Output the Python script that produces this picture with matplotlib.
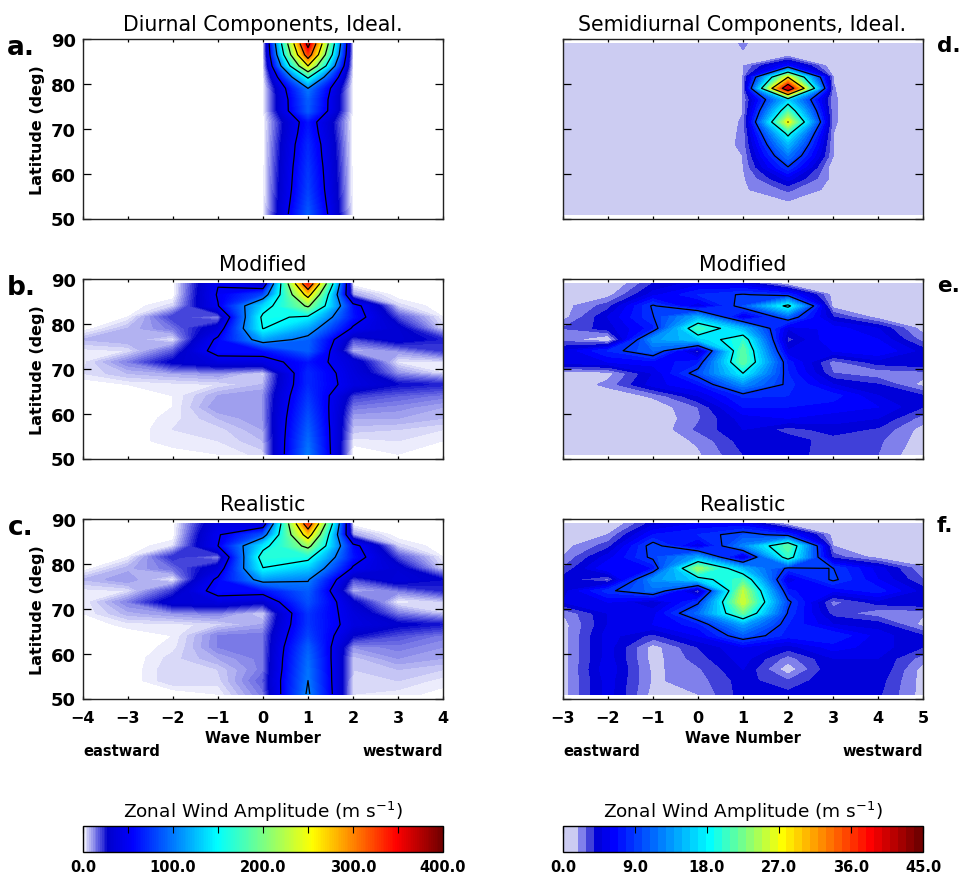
"""
Zonal wind amplitude by wave number and latitude, diurnal and semidiurnal.
"""

import numpy as np
import matplotlib
matplotlib.use("Agg")
import matplotlib.pyplot as plt
from matplotlib.cm import ScalarMappable
from matplotlib.colors import BoundaryNorm, LinearSegmentedColormap

W, H = 961, 878

lat_rows = [89, 86.5, 84, 81.5, 79, 76.5, 74, 71.5, 69, 66.5, 64, 61.5, 59, 56.5, 54, 51]
diurnal_waves = [-4, -3, -2, -1, 0, 1, 2, 3, 4]
semi_waves = [-3, -2, -1, 0, 1, 2, 3, 4, 5]

diurnal_ideal = [
    [0, 0, 0, 0, 0, 365, 0, 0, 0],
    [0, 0, 0, 0, 0, 325, 0, 0, 0],
    [0, 0, 0, 0, 0, 250, 0, 0, 0],
    [0, 0, 0, 0, 0, 155, 0, 0, 0],
    [0, 0, 0, 0, 0, 100, 0, 0, 0],
    [0, 0, 0, 0, 0, 90, 0, 0, 0],
    [0, 0, 0, 0, 0, 89, 0, 0, 0],
    [0, 0, 0, 0, 0, 62, 0, 0, 0],
    [0, 0, 0, 0, 0, 65, 0, 0, 0],
    [0, 0, 0, 0, 0, 70, 0, 0, 0],
    [0, 0, 0, 0, 0, 72, 0, 0, 0],
    [0, 0, 0, 0, 0, 75, 0, 0, 0],
    [0, 0, 0, 0, 0, 77, 0, 0, 0],
    [0, 0, 0, 0, 0, 79, 0, 0, 0],
    [0, 0, 0, 0, 0, 83, 0, 0, 0],
    [0, 0, 0, 0, 0, 89, 0, 0, 0],
]

diurnal_modified = [
    [0, 0, 0, 49, 25, 340, 0, 0, 0],
    [0, 0, 0, 52, 80, 265, 10, 0, 0],
    [0, 0, 5, 49, 135, 205, 60, 5, 0],
    [0, 2, 22, 12, 157, 145, 62, 20, 2],
    [0, 8, 15, 35, 151, 115, 47, 32, 5],
    [8, 10, 3, 55, 115, 92, 20, 33, 25],
    [3, 4, 18, 60, 60, 90, 8, 12, 22],
    [3, 14, 30, 38, 40, 62, 35, 3, 3],
    [4, 8, 10, 12, 5, 70, 38, 12, 4],
    [0, 2, 3, 4, 8, 70, 40, 28, 25],
    [0, 0, 2, 10, 12, 75, 22, 18, 15],
    [0, 0, 2, 12, 12, 80, 15, 13, 10],
    [0, 0, 3, 8, 12, 85, 10, 10, 8],
    [0, 0, 4, 5, 10, 90, 7, 6, 4],
    [0, 0, 4, 4, 8, 95, 3, 4, 2],
    [0, 0, 0, 2, 5, 100, 0, 2, 0],
]

diurnal_realistic = [
    [0, 0, 0, 40, 30, 330, 0, 0, 0],
    [0, 0, 0, 48, 85, 270, 10, 0, 0],
    [0, 0, 4, 50, 140, 210, 58, 5, 0],
    [0, 2, 24, 12, 165, 158, 62, 20, 2],
    [0, 9, 16, 35, 149, 130, 47, 33, 5],
    [8, 12, 2, 55, 112, 102, 20, 36, 28],
    [3, 4, 22, 60, 60, 90, 8, 14, 24],
    [2, 14, 34, 38, 30, 85, 30, 2, 5],
    [2, 9, 12, 14, 5, 75, 38, 14, 6],
    [0, 3, 3, 5, 10, 75, 40, 30, 26],
    [0, 0, 2, 14, 15, 80, 28, 20, 15],
    [0, 0, 3, 14, 15, 90, 12, 15, 12],
    [0, 0, 5, 10, 15, 95, 7, 12, 10],
    [0, 0, 6, 6, 15, 98, 6, 8, 6],
    [0, 0, 6, 5, 18, 100, 5, 6, 3],
    [0, 0, 0, 2, 15, 104, 4, 3, 1],
]

semi_ideal = [
    [1, 1, 1, 1, 2.1, 1, 1, 1, 1],
    [1, 1, 1, 1, 1.9, 1, 1, 1, 1],
    [1, 1, 1, 1, 1.9, 7, 1, 1, 1],
    [1, 1, 1, 1, 1.95, 27, 1.95, 1, 1],
    [1, 1, 1, 1, 1.95, 41, 2.05, 1, 1],
    [1, 1, 1, 1, 1.95, 16, 2.1, 1, 1],
    [1, 1, 1, 1, 1.95, 21, 2.1, 1, 1],
    [1, 1, 1, 1, 2.1, 27.1, 2.1, 1, 1],
    [1, 1, 1, 1, 2.15, 19, 2, 1, 1],
    [1, 1, 1, 1, 2.2, 15, 2, 1, 1],
    [1, 1, 1, 1, 2, 12, 2, 1, 1],
    [1, 1, 1, 1, 1.95, 9, 1.2, 1, 1],
    [1, 1, 1, 1, 1.8, 5.5, 1.6, 1, 1],
    [1, 1, 1, 1, 1.8, 3.2, 1.55, 1, 1],
    [1, 1, 1, 1, 1, 2, 1, 1, 1],
    [1, 1, 1, 1, 1, 1, 1, 1, 1],
]

semi_modified = [
    [0.8, 0.5, 4, 5.5, 5, 1, 0.8, 0.8, 0.8],
    [1, 1.5, 5.5, 8, 9.2, 8, 1.5, 0.8, 0.8],
    [1.5, 3.5, 9.3, 5, 10, 19, 1.5, 0.8, 0.8],
    [1.5, 5, 8.9, 14.5, 5, 10.5, 4, 1.5, 0.8],
    [3, 4.5, 7.5, 21, 15, 5, 6.5, 5, 1.5],
    [2.5, 0.5, 13.5, 16, 20, 3.5, 7, 6, 2.5],
    [5, 8, 11, 3, 22, 5, 6, 7, 4.5],
    [5.5, 6, 6.5, 7.5, 22, 7.5, 2.5, 4.5, 5],
    [1, 1.5, 5, 10, 18, 8, 3, 2.2, 2.5],
    [1, 2.3, 5.5, 7, 13, 8.5, 5, 4, 1.5],
    [1, 1.2, 2.2, 5, 8.2, 8, 7.5, 5, 4],
    [1, 1, 1.2, 3, 7, 7, 6.5, 6, 4],
    [1, 1, 1, 2.8, 5.5, 6, 5.5, 5, 2.5],
    [1, 1, 1, 3.2, 5, 3.5, 4.5, 3.8, 1.5],
    [1, 1, 1, 2.2, 4.5, 4.5, 3.5, 3.2, 1.4],
    [1, 1, 0.8, 1.8, 4, 4.5, 3.4, 3, 1],
]

semi_realistic = [
    [0.8, 0.5, 4.5, 6, 6, 1, 0.8, 0.8, 0.8],
    [1, 2, 7, 8, 10, 8, 1.5, 0.8, 0.8],
    [1.5, 3.5, 10, 5, 12.5, 22, 2, 0.8, 0.8],
    [2, 5.5, 9.5, 14, 4, 20, 3.5, 1.5, 0.8],
    [3, 7, 7, 24, 15, 8.5, 9.05, 5.5, 2.2],
    [4.5, 2.5, 13.3, 16.5, 21, 5, 9.4, 6, 3],
    [4.5, 8.5, 11.5, 2.5, 25, 7.2, 6, 7.5, 4.5],
    [5, 6, 4, 8.5, 26, 9.5, 2.5, 4.5, 5],
    [2, 5, 5.5, 11.5, 22, 8.8, 3.5, 2.2, 2.2],
    [1.5, 5, 6, 7.5, 14, 8, 5, 4.5, 1.5],
    [1.5, 5.5, 3.6, 6, 10.5, 7.5, 8, 5.5, 4],
    [1.5, 5.5, 1.5, 4, 6, 4.5, 6.5, 5.5, 4],
    [1.5, 5.5, 1.5, 3.5, 5.5, 2.5, 5, 5, 2.5],
    [1.5, 5.8, 1.7, 2.8, 5, 1.2, 5, 5, 1.5],
    [1.5, 5.5, 1.8, 2.5, 4.5, 3, 5, 4.5, 1.5],
    [1.5, 5.5, 1.5, 2, 4.5, 4.3, 4.5, 4.2, 1.5],
]

diurnal_contours = [50, 100, 150, 200, 250, 300, 350]
semi_contours = [9, 18, 27, 36]
diurnal_bar_ticks = [0, 50, 100, 150, 200, 250, 300, 350, 400]
diurnal_bar_labels = ["0.0", "", "100.0", "", "200.0", "", "300.0", "", "400.0"]
semi_bar_ticks = [0, 9, 18, 27, 36, 45]
semi_bar_labels = ["0.0", "9.0", "18.0", "27.0", "36.0", "45.0"]


def box(left, top, right, bottom):
    # pixel box of the reference to figure fractions
    return [left / W, 1 - bottom / H, (right - left) / W, (bottom - top) / H]


def label(x, y, text, **kwargs):
    fig.text(x / W, 1 - y / H, text, ha=kwargs.pop("ha", "center"), va="center", **kwargs)


def draw_panel(top, left, waves, values, cmap, norm, levels, contours, title, letter, bottom_row):
    ax = fig.add_axes(box(left, top, left + 360, top + 179.5))
    z = np.array(values, dtype=float)
    filled = ax.contourf(waves, lat_rows, z, levels=levels, cmap=cmap, norm=norm)
    # paint the seams between the bands shut
    filled.set_edgecolor("face")
    filled.set_linewidth(0.3)
    ax.contour(waves, lat_rows, z, levels=contours, colors="black", linewidths=0.9)
    ax.set_xlim(waves[0], waves[-1])
    ax.set_ylim(50, 90)
    ax.set_xticks(waves)
    ax.set_yticks([50, 60, 70, 80, 90])
    ax.tick_params(axis="x", direction="in", length=2.5, width=0.9, top=True, pad=8.5,
                   labelbottom=bottom_row, labelsize=11.5)
    ax.tick_params(axis="y", direction="in", length=5.5, width=0.9, right=True, pad=5,
                   labelleft=left < 300, labelsize=13)
    for tick in ax.get_xticklabels() + ax.get_yticklabels():
        tick.set_fontweight("bold")
    for spine in ax.spines.values():
        spine.set_linewidth(1.0)
        spine.set_color("#222222")
    if left < 300:
        ax.set_ylabel("Latitude (deg)", fontsize=11.5, fontweight="bold", labelpad=4)
    center = left + 179.5
    label(center, top - 15, title, fontsize=14.8)
    if left < 300:
        label(21, top + 8, letter, fontsize=19, fontweight="bold")
    else:
        label(937, top + 6, letter, fontsize=15.5, fontweight="bold", ha="left")
    if bottom_row:
        label(center, top + 219, "Wave Number", fontsize=10.5, fontweight="bold")
        label(left, top + 232, "eastward", fontsize=10.5, fontweight="bold", ha="left")
        label(left + 360, top + 232, "westward", fontsize=10.5, fontweight="bold", ha="right")


def draw_bar(left, cmap, norm, ticks, tick_labels):
    cax = fig.add_axes(box(left, 827, left + 360, 853))
    bar = fig.colorbar(ScalarMappable(norm=norm, cmap=cmap), cax=cax, orientation="horizontal")
    bar.solids.set_edgecolor("face")
    bar.set_ticks(ticks)
    bar.set_ticklabels(tick_labels)
    bar.minorticks_off()
    cax.tick_params(axis="x", direction="in", length=5, width=0.8, bottom=False, top=True, pad=5,
                    labelsize=10.5, labelbottom=True)
    for tick in cax.get_xticklabels():
        tick.set_fontweight("bold")
    bar.outline.set_linewidth(1.0)
    label(left + 180, 812, "Zonal Wind Amplitude (m s$^{-1}$)", fontsize=13.3)


plt.rcParams["font.family"] = ["DejaVu Sans"]
plt.rcParams["mathtext.default"] = "regular"

diurnal_cmap = LinearSegmentedColormap.from_list(
    "diurnal",
    [(0, (1, 1, 1)), (0.03, (0.55, 0.55, 0.92)), (0.07, (0, 0, 0.8)), (0.14, (0, 0, 1)),
     (0.375, (0, 1, 1)), (0.64, (1, 1, 0)), (0.875, (1, 0, 0)), (1, (0.45, 0, 0))],
    N=200,
)
diurnal_levels = np.arange(0, 402, 2)
diurnal_norm = BoundaryNorm(diurnal_levels, 200)

semi_cmap = LinearSegmentedColormap.from_list(
    "semi",
    [(0, (0.8, 0.8, 0.95)), (1 / 44, (0.8, 0.8, 0.95)), (2 / 44, (0.5, 0.5, 0.92)),
     (3 / 44, (0.25, 0.25, 0.85)), (4 / 44, (0, 0, 0.85)), (6 / 44, (0, 0, 1)),
     (18 / 44, (0, 1, 1)), (27 / 44, (1, 1, 0)), (38 / 44, (1, 0, 0)), (1, (0.45, 0, 0))],
    N=45,
)
semi_levels = np.arange(0, 46, 1)
semi_norm = BoundaryNorm(semi_levels, 45)

fig = plt.figure(figsize=(W / 100, H / 100), dpi=100)

draw_panel(40, 83, diurnal_waves, diurnal_ideal, diurnal_cmap, diurnal_norm, diurnal_levels,
           diurnal_contours, "Diurnal Components, Ideal.", "a.", False)
draw_panel(280, 83, diurnal_waves, diurnal_modified, diurnal_cmap, diurnal_norm, diurnal_levels,
           diurnal_contours, "Modified", "b.", False)
draw_panel(520, 83, diurnal_waves, diurnal_realistic, diurnal_cmap, diurnal_norm, diurnal_levels,
           diurnal_contours, "Realistic", "c.", True)
draw_panel(40, 563, semi_waves, semi_ideal, semi_cmap, semi_norm, semi_levels,
           semi_contours, "Semidiurnal Components, Ideal.", "d.", False)
draw_panel(280, 563, semi_waves, semi_modified, semi_cmap, semi_norm, semi_levels,
           semi_contours, "Modified", "e.", False)
draw_panel(520, 563, semi_waves, semi_realistic, semi_cmap, semi_norm, semi_levels,
           semi_contours, "Realistic", "f.", True)

draw_bar(83, diurnal_cmap, diurnal_norm, diurnal_bar_ticks, diurnal_bar_labels)
draw_bar(563, semi_cmap, semi_norm, semi_bar_ticks, semi_bar_labels)

fig.savefig("out.png", dpi=100)
